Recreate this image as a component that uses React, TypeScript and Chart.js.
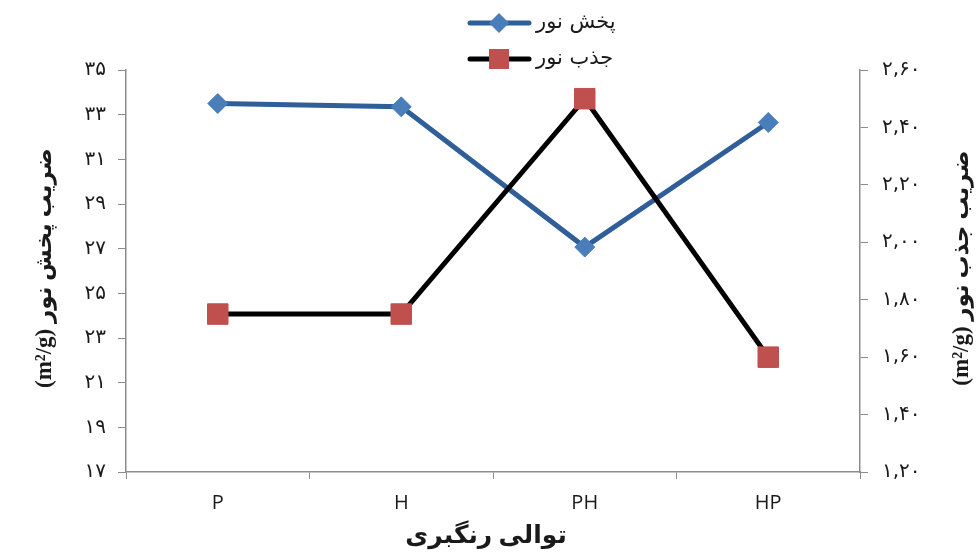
import React, { useEffect, useRef } from "react";
import { Chart, registerables } from "chart.js";
Chart.register(...registerables);

const categories = ["P", "H", "PH", "HP"];
const scatteringValues = [33.5, 33.35, 27.07, 32.65];
const absorptionValues = [1.75, 1.75, 2.5, 1.6];
const scatteringLabel = "پخش نور";
const absorptionLabel = "جذب نور";
const leftAxisTitle = "(m²/g) ضریب پخش نور";
const rightAxisTitle = "(m²/g) ضریب جذب نور";
const xAxisTitle = "توالی رنگبری";
const leftAxisRange = [17, 35, 2];
const rightAxisRange = [1.2, 2.6, 0.2];

const PERSIAN = "۰۱۲۳۴۵۶۷۸۹";
const toPersian = (s: string) => s.replace(/[0-9]/g, (d) => PERSIAN[+d]);

const BLUE_LINE = "#2F5E98";
const BLUE_MARK = "#4A7EBB";
const RED_MARK = "#C0504D";
const AXIS = "#8C8C8C";
const TEXT = "#1a1a1a";

const decorPlugin = {
  id: "decor",
  afterDraw(chart: any) {
    const { ctx, chartArea } = chart;
    ctx.save();
    // legend
    const items = [
      { y: 23, line: BLUE_LINE, mark: BLUE_MARK, shape: "diamond", text: scatteringLabel },
      { y: 59, line: "#000000", mark: RED_MARK, shape: "square", text: absorptionLabel },
    ];
    for (const it of items) {
      ctx.strokeStyle = it.line;
      ctx.lineWidth = 5;
      ctx.lineCap = "round";
      ctx.beginPath();
      ctx.moveTo(470, it.y);
      ctx.lineTo(529, it.y);
      ctx.stroke();
      ctx.fillStyle = it.mark;
      if (it.shape === "diamond") {
        ctx.beginPath();
        ctx.moveTo(499 - 10, it.y);
        ctx.lineTo(499, it.y - 10);
        ctx.lineTo(499 + 10, it.y);
        ctx.lineTo(499, it.y + 10);
        ctx.closePath();
        ctx.fill();
      } else {
        ctx.fillRect(499 - 10, it.y - 10, 20, 20);
      }
      ctx.fillStyle = TEXT;
      ctx.font = "21px 'DejaVu Sans'";
      ctx.textAlign = "left";
      ctx.textBaseline = "middle";
      ctx.fillText(it.text, 536, it.y);
    }
    // axis titles
    const midY = (chartArea.top + chartArea.bottom) / 2 - 3;
    ctx.fillStyle = TEXT;
    ctx.font = "bold 23px 'Liberation Serif', 'DejaVu Sans'";
    ctx.textAlign = "center";
    ctx.textBaseline = "middle";
    ctx.save();
    ctx.translate(45, midY);
    ctx.rotate(-Math.PI / 2);
    ctx.fillText(leftAxisTitle, 0, 0);
    ctx.restore();
    ctx.save();
    ctx.translate(962, midY);
    ctx.rotate(-Math.PI / 2);
    ctx.fillText(rightAxisTitle, 0, 0);
    ctx.restore();
    ctx.font = "bold 25px 'Liberation Serif', 'DejaVu Sans'";
    ctx.fillText(xAxisTitle, 486, 537);
    ctx.restore();
  },
};

export default function App() {
  const ref = useRef<HTMLCanvasElement | null>(null);
  useEffect(() => {
    if (!ref.current) return;
    const chart = new Chart(ref.current, {
      type: "line",
      data: {
        labels: categories,
        datasets: [
          {
            label: scatteringLabel,
            data: scatteringValues,
            yAxisID: "y",
            borderColor: BLUE_LINE,
            borderWidth: 5,
            backgroundColor: BLUE_MARK,
            pointStyle: "rectRot",
            pointRadius: 10,
            pointBorderColor: BLUE_MARK,
            pointBackgroundColor: BLUE_MARK,
            pointBorderWidth: 1,
            tension: 0,
            order: 1,
          },
          {
            label: absorptionLabel,
            data: absorptionValues,
            yAxisID: "y1",
            borderColor: "#000000",
            borderWidth: 5,
            backgroundColor: RED_MARK,
            pointStyle: "rect",
            pointRadius: 14.5,
            pointBorderColor: RED_MARK,
            pointBackgroundColor: RED_MARK,
            pointBorderWidth: 1,
            tension: 0,
            order: 0,
          },
        ],
      },
      options: {
        animation: false,
        responsive: true,
        maintainAspectRatio: false,
        layout: { padding: { top: 70, left: 0, right: 0, bottom: 0 } },
        plugins: { legend: { display: false }, tooltip: { enabled: false } },
        scales: {
          x: {
            offset: true,
            grid: { offset: true, drawOnChartArea: false, tickLength: 7, color: AXIS },
            border: { color: AXIS, width: 1.5 },
            ticks: { color: TEXT, font: { family: "'Open Sans'", size: 20 }, padding: 12 },
            afterFit: (s: any) => { s.height = 81; },
          },
          y: {
            position: "left",
            min: leftAxisRange[0],
            max: leftAxisRange[1],
            grid: { drawOnChartArea: false, tickLength: 8, color: AXIS },
            border: { color: AXIS, width: 1.5 },
            ticks: {
              stepSize: leftAxisRange[2],
              color: TEXT,
              font: { family: "'DejaVu Sans'", size: 20 },
              padding: 12,
              callback: (v: any) => toPersian(String(Math.round(Number(v)))),
            },
            afterFit: (s: any) => { s.width = 126; },
          },
          y1: {
            position: "right",
            min: rightAxisRange[0],
            max: rightAxisRange[1],
            grid: { drawOnChartArea: false, tickLength: 8, color: AXIS },
            border: { color: AXIS, width: 1.5 },
            ticks: {
              stepSize: rightAxisRange[2],
              color: TEXT,
              font: { family: "'DejaVu Sans'", size: 20 },
              padding: 14,
              callback: (v: any) => toPersian(Number(v).toFixed(2).replace(".", ",")),
            },
            afterFit: (s: any) => { s.width = 120; },
          },
        },
      },
      plugins: [decorPlugin],
    } as any);
    return () => chart.destroy();
  }, []);
  return (
    <div style={{ position: "fixed", left: 0, top: 0, width: 980, height: 553, background: "#fff" }}>
      <canvas ref={ref} />
    </div>
  );
}
